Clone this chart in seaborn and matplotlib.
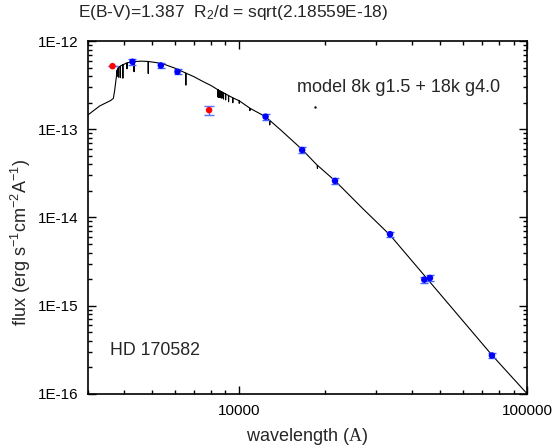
import numpy as np
import pandas as pd
import seaborn as sns
import matplotlib.pyplot as plt
from matplotlib.ticker import LogLocator, NullFormatter

# model spectrum (wavelength in A, flux), incl. line dips
model_wl = [3000, 3300, 3600, 3680, 3720, 3760, 3795, 3798, 3801, 3832, 3835, 3838,
            3885, 3889, 3893, 3965, 3970, 3975, 4095, 4101, 4107, 4333, 4340, 4347,
            4600, 4853, 4861, 4869, 5200, 5500, 6000, 6552, 6563, 6574, 7000, 7500,
            8000, 8400, 8460, 8467, 8474, 8495, 8502, 8509, 8538, 8545, 8552, 8591,
            8598, 8605, 8657, 8665, 8673, 8742, 8750, 8758, 8855, 8863, 8871, 9006,
            9015, 9024, 9220, 9229, 9238, 9537, 9546, 9555, 10040, 10049, 10058,
            10928, 10938, 10948, 12400, 12808, 12818, 12828, 14000, 16600, 18740,
            18751, 18762, 21600, 27000, 33500, 45000, 75500, 87000, 100000]
model_flux = [1.45e-13, 1.84e-13, 2.12e-13, 2.24e-13, 2.8e-13, 3.7e-13, 4.7e-13, 4.0e-13,
              4.8e-13, 5.0e-13, 3.9e-13, 5.05e-13, 5.2e-13, 3.85e-13, 5.2e-13, 5.4e-13,
              3.8e-13, 5.4e-13, 5.65e-13, 4.85e-13, 5.67e-13, 5.85e-13, 4.5e-13, 5.86e-13,
              5.93e-13, 5.88e-13, 4.3e-13, 5.87e-13, 5.7e-13, 5.48e-13, 4.95e-13, 4.35e-13,
              3.17e-13, 4.33e-13, 3.95e-13, 3.5e-13, 3.15e-13, 2.86e-13, 2.82e-13, 2.35e-13,
              2.81e-13, 2.8e-13, 2.3e-13, 2.79e-13, 2.77e-13, 2.3e-13, 2.76e-13, 2.74e-13,
              2.3e-13, 2.73e-13, 2.7e-13, 2.28e-13, 2.69e-13, 2.66e-13, 2.25e-13, 2.65e-13,
              2.6e-13, 2.2e-13, 2.59e-13, 2.52e-13, 2.15e-13, 2.51e-13, 2.42e-13, 2.05e-13,
              2.41e-13, 2.28e-13, 2.0e-13, 2.27e-13, 2.11e-13, 1.97e-13, 2.1e-13, 1.74e-13,
              1.63e-13, 1.73e-13, 1.39e-13, 1.26e-13, 1.12e-13, 1.26e-13, 9.8e-14, 5.9e-14,
              3.9e-14, 3.6e-14, 3.9e-14, 2.6e-14, 1.25e-14, 6.3e-15, 2.02e-15, 2.75e-16,
              1.65e-16, 1.0e-16]

# photometry
blue_wl = [4286, 5375, 6140, 12400, 16600, 21580, 33480, 44000, 46040, 75500]
blue_flux = [5.83e-13, 5.3e-13, 4.49e-13, 1.39e-13, 5.82e-14, 2.6e-14, 6.46e-15,
             1.97e-15, 2.06e-15, 2.72e-16]
blue_err = [4.5e-14, 4.0e-14, 3.0e-14, 1.0e-14, 4.5e-15, 2.0e-15, 4.5e-16,
            1.5e-16, 1.5e-16, 2.0e-17]
red_wl = [3655, 7900]
red_flux = [5.2e-13, 1.65e-13]
red_err = [0.0, 2.0e-14]

sns.set_style("ticks")
plt.rcParams['font.family'] = ['Liberation Sans', 'DejaVu Sans']
plt.rcParams['mathtext.fontset'] = 'custom'
plt.rcParams['mathtext.rm'] = 'Liberation Sans'
plt.rcParams['mathtext.it'] = 'Liberation Sans:italic'
plt.rcParams['mathtext.sf'] = 'Liberation Serif'

fig, ax = plt.subplots(figsize=(5.52, 4.47), dpi=100)
fig.subplots_adjust(left=0.159, right=0.955, top=0.908, bottom=0.119)

model = pd.DataFrame({"wl": model_wl, "flux": model_flux})
sns.lineplot(data=model, x="wl", y="flux", sort=False, estimator=None,
             color="black", linewidth=0.8, ax=ax)

ax.errorbar(blue_wl, blue_flux, yerr=blue_err, fmt='none', ecolor='#4060ff',
            elinewidth=1.0, capsize=3, capthick=1.0, zorder=3)
sns.scatterplot(x=blue_wl, y=blue_flux, color='#0000ff', s=22, edgecolor='none',
                zorder=4, ax=ax)
ax.errorbar(red_wl, red_flux, yerr=red_err, fmt='none', ecolor='#6070ff',
            elinewidth=1.0, capsize=3.5, capthick=1.0, zorder=3)
sns.scatterplot(x=red_wl, y=red_flux, color='#ff0000', s=22, edgecolor='none',
                zorder=5, ax=ax)
# stray dot under the model label
ax.plot([18370], [1.8e-13], marker='o', ms=0.7, color='black', ls='none')

ax.set_xscale('log')
ax.set_yscale('log')
ax.set_xlim(3000, 100000)
ax.set_ylim(1e-16, 1e-12)

ax.set_xticks([10000, 100000], labels=['10000', '100000'])
ax.xaxis.set_minor_locator(LogLocator(base=10, subs=range(2, 10)))
ax.xaxis.set_minor_formatter(NullFormatter())
ax.set_yticks([1e-12, 1e-13, 1e-14, 1e-15, 1e-16],
              labels=['1E-12', '1E-13', '1E-14', '1E-15', '1E-16'])
ax.yaxis.set_minor_locator(LogLocator(base=10, subs=range(2, 10)))
ax.yaxis.set_minor_formatter(NullFormatter())

ax.tick_params(which='both', direction='in', top=True, right=True, width=1.0,
               labelsize=11, colors='black')
ax.tick_params(which='major', length=6, pad=7)
ax.tick_params(which='minor', length=3)
for s in ax.spines.values():
    s.set_linewidth(1.2)
    s.set_color('black')

ax.set_xlabel('wavelength ($\\mathsf{A}$)', fontsize=13)
ax.xaxis.set_label_coords(0.5, -0.092)
ax.set_ylabel('flux (erg s$^{-1}$cm$^{-2}$A$^{-1}$)', fontsize=13)
ax.yaxis.set_label_coords(-0.125, 0.43)

ax.text((297 - 88) / 439, 1 - (87 - 41) / 353, 'model 8k g1.5 + 18k g4.0',
        transform=ax.transAxes, fontsize=13, va='center', ha='left')
ax.text((110 - 88) / 439, 1 - (351 - 41) / 353, 'HD 170582',
        transform=ax.transAxes, fontsize=12.8, va='center', ha='left')
fig.text(78 / 552, 1 - 12 / 447, 'E(B-V)=1.387  R$_2$/d = sqrt(2.18559E-18)',
         fontsize=12.5, va='center', ha='left')

fig.savefig('out.png', dpi=100)
